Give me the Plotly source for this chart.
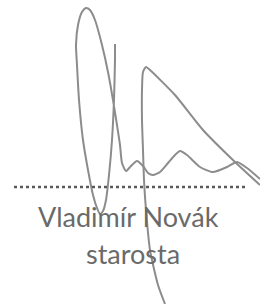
import plotly.graph_objects as go

# Signature stroke 1: thin down-stroke, big loop, then waves to the right
stroke1_x = [115, 115, 114, 112, 109, 106, 103, 100, 97, 93, 88, 83, 79, 77, 76, 78, 82, 86, 90, 95, 102, 108, 113, 117, 120, 122, 126, 131, 137, 143, 148, 153, 160, 168, 175, 180, 187, 200, 213, 227, 237, 247, 260]
stroke1_y = [44, 60, 100, 140, 175, 200, 211, 214, 208, 195, 170, 140, 100, 65, 45, 25, 12, 8, 10, 20, 45, 72, 100, 125, 145, 163, 171, 166, 161, 166, 173, 175, 172, 163, 155, 151, 155, 167, 172, 167, 162, 168, 179]

# Signature stroke 2: long vertical up, then diagonal down-right
stroke2_x = [165, 158, 150, 146, 144, 143, 142, 142, 143, 146, 150, 175, 203, 235, 260]
stroke2_y = [304, 285, 250, 210, 180, 150, 120, 90, 72, 67, 70, 95, 130, 162, 185]

# Dotted signature line
dots_x = [14, 246]
dots_y = [187, 187]

name_text = "Vladimír Novák"
title_text = "starosta"

fig = go.Figure()
fig.add_trace(go.Scatter(x=stroke1_x, y=stroke1_y, mode="lines",
                         line=dict(color="#8c8c8c", width=2, shape="spline", smoothing=0.6),
                         hoverinfo="skip"))
fig.add_trace(go.Scatter(x=stroke2_x, y=stroke2_y, mode="lines",
                         line=dict(color="#8c8c8c", width=2, shape="spline", smoothing=0.6),
                         hoverinfo="skip"))
fig.add_trace(go.Scatter(x=dots_x, y=dots_y, mode="lines",
                         line=dict(color="#5a5a5a", width=2.5, dash="dot"),
                         hoverinfo="skip"))

fig.add_annotation(x=128, y=216, text=name_text, showarrow=False,
                   font=dict(family="Lato", size=27, color="#6a6a6a"),
                   xanchor="center", yanchor="middle")
fig.add_annotation(x=133, y=253, text=title_text, showarrow=False,
                   font=dict(family="Lato", size=27, color="#6a6a6a"),
                   xanchor="center", yanchor="middle")

fig.update_layout(width=260, height=304, margin=dict(l=0, r=0, t=0, b=0),
                  paper_bgcolor="white", plot_bgcolor="white", showlegend=False)
fig.update_xaxes(range=[0, 260], visible=False, fixedrange=True)
fig.update_yaxes(range=[304, 0], visible=False, fixedrange=True)

fig.write_html("out.html", config={"displayModeBar": False},
               post_script="document.body.style.margin='0';document.body.style.overflow='hidden';")
